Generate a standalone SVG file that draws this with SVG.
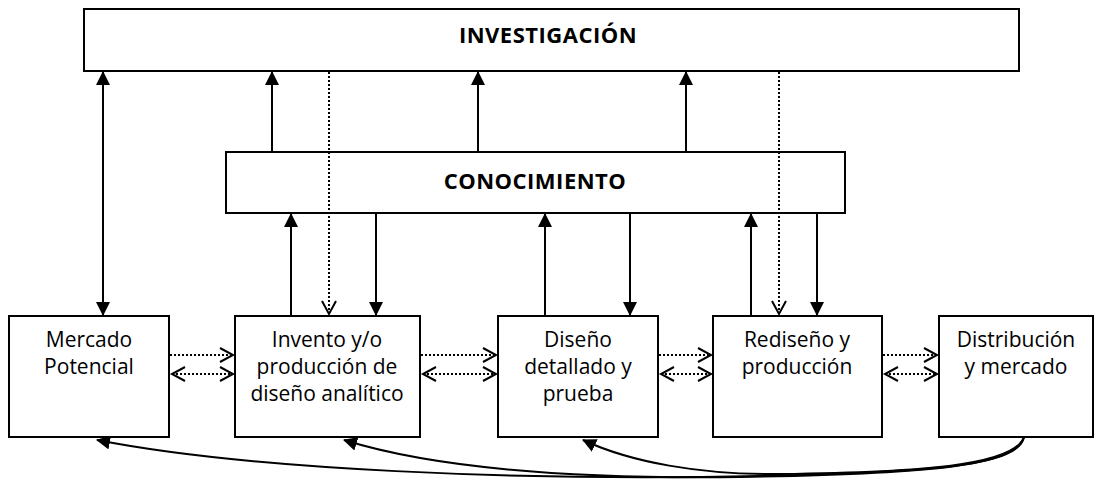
<svg xmlns="http://www.w3.org/2000/svg" width="1099" height="481" viewBox="0 0 1099 481">
<defs>
<marker id="fh" markerUnits="userSpaceOnUse" markerWidth="14" markerHeight="14" viewBox="0 0 14 14" refX="13" refY="7" orient="auto-start-reverse">
<path d="M0,0 L14,7 L0,14 Z" fill="#000"/>
</marker>
<marker id="vh" markerUnits="userSpaceOnUse" markerWidth="18" markerHeight="20" viewBox="0 0 18 20" refX="15" refY="10" orient="auto-start-reverse">
<path d="M2,3 L15,10 L2,17" fill="none" stroke="#000" stroke-width="2"/>
</marker>
</defs>
<style>
.box{fill:#fff;stroke:#000;stroke-width:2}
.t{font-family:"Open Sans","Liberation Sans",sans-serif;font-size:21px;fill:#000;text-anchor:middle}
.tb{font-family:"Open Sans","Liberation Sans",sans-serif;font-size:22px;font-weight:bold;fill:#000;text-anchor:middle;letter-spacing:0.5px}
.s{stroke:#000;stroke-width:2;fill:none}
.d{stroke:#000;stroke-width:2;fill:none;stroke-dasharray:2 2}
</style>
<rect width="1099" height="481" fill="#fff"/>
<g id="investigacion">
<rect class="box" x="84" y="9" width="935" height="62"/>
<text class="tb" x="548" y="43">INVESTIGACIÓN</text>
</g>
<g id="conocimiento">
<rect class="box" x="226" y="152" width="619" height="61"/>
<text class="tb" x="535" y="189">CONOCIMIENTO</text>
</g>
<g id="mercado">
<rect class="box" x="9" y="316" width="160" height="121"/>
<text class="t" x="89" y="347">Mercado</text>
<text class="t" x="89" y="374">Potencial</text>
</g>
<g id="invento">
<rect class="box" x="235" y="316" width="185" height="121"/>
<text class="t" x="327" y="347">Invento y/o</text>
<text class="t" x="327" y="374">producción de</text>
<text class="t" x="327" y="401">diseño analítico</text>
</g>
<g id="diseno">
<rect class="box" x="498" y="316" width="160" height="121"/>
<text class="t" x="578" y="347">Diseño</text>
<text class="t" x="578" y="374">detallado y</text>
<text class="t" x="578" y="401">prueba</text>
</g>
<g id="rediseno">
<rect class="box" x="713" y="316" width="169" height="121"/>
<text class="t" x="797" y="347">Rediseño y</text>
<text class="t" x="797" y="374">producción</text>
</g>
<g id="distribucion">
<rect class="box" x="939" y="316" width="154" height="121"/>
<text class="t" x="1016" y="347">Distribución</text>
<text class="t" x="1016" y="374">y mercado</text>
</g>
<g id="connectors">
<line class="s" x1="103" y1="72" x2="103" y2="315" marker-start="url(#fh)" marker-end="url(#fh)"/>
<line class="s" x1="272" y1="152" x2="272" y2="72" marker-end="url(#fh)"/>
<line class="s" x1="478" y1="152" x2="478" y2="72" marker-end="url(#fh)"/>
<line class="s" x1="686" y1="152" x2="686" y2="72" marker-end="url(#fh)"/>
<line class="d" x1="329" y1="72" x2="329" y2="314" marker-end="url(#vh)"/>
<line class="d" x1="779" y1="72" x2="779" y2="314" marker-end="url(#vh)"/>
<line class="s" x1="291" y1="316" x2="291" y2="214" marker-end="url(#fh)"/>
<line class="s" x1="376" y1="213" x2="376" y2="315" marker-end="url(#fh)"/>
<line class="s" x1="545" y1="316" x2="545" y2="214" marker-end="url(#fh)"/>
<line class="s" x1="630" y1="213" x2="630" y2="315" marker-end="url(#fh)"/>
<line class="s" x1="751" y1="316" x2="751" y2="214" marker-end="url(#fh)"/>
<line class="s" x1="817" y1="213" x2="817" y2="315" marker-end="url(#fh)"/>
<line class="d" x1="170" y1="355" x2="233" y2="355" marker-end="url(#vh)"/>
<line class="d" x1="172" y1="374" x2="233" y2="374" marker-start="url(#vh)" marker-end="url(#vh)"/>
<line class="d" x1="421" y1="355" x2="496" y2="355" marker-end="url(#vh)"/>
<line class="d" x1="423" y1="374" x2="496" y2="374" marker-start="url(#vh)" marker-end="url(#vh)"/>
<line class="d" x1="659" y1="355" x2="711" y2="355" marker-end="url(#vh)"/>
<line class="d" x1="661" y1="374" x2="711" y2="374" marker-start="url(#vh)" marker-end="url(#vh)"/>
<line class="d" x1="883" y1="355" x2="937" y2="355" marker-end="url(#vh)"/>
<line class="d" x1="885" y1="374" x2="937" y2="374" marker-start="url(#vh)" marker-end="url(#vh)"/>
<path class="s" d="M1024,437 C1018,465 940,472 760,476 C520,481 250,470 97,440" marker-end="url(#fh)"/>
<path class="s" d="M1024,437 C1016,466 930,474 740,477 C580,479 440,470 344,440" marker-end="url(#fh)"/>
<path class="s" d="M1024,437 C1014,466 920,472 780,474 C700,475 630,462 583,440" marker-end="url(#fh)"/>
</g>
</svg>
